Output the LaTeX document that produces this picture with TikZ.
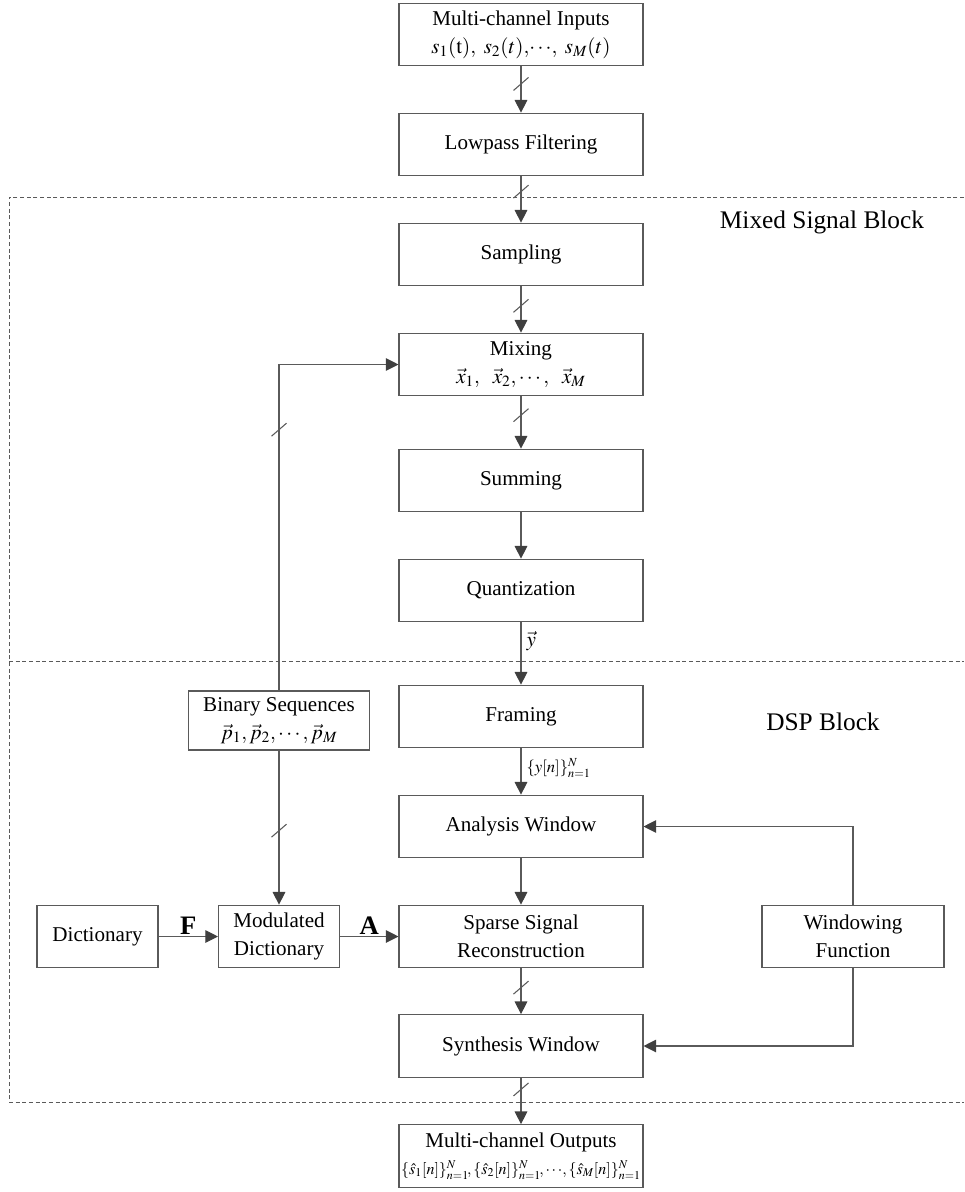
\documentclass[tikz,border=0pt]{standalone}
\usepackage{mathptmx}
\usepackage{fontspec}
\setmainfont{Liberation Serif}
\usetikzlibrary{arrows.meta}

\definecolor{linegray}{HTML}{5A5A5A}
\definecolor{tipgray}{HTML}{3F3F3F}

\tikzset{
  blk/.style={draw=linegray, line width=0.8pt, minimum width=183pt, minimum height=47pt,
    align=center, inner sep=1pt, font=\fontsize{15.8}{21}\selectfont},
  flow/.style={draw=linegray, line width=0.8pt, -{Triangle[length=9.5pt,width=9.5pt,color=tipgray]}},
  busbar/.pic={\draw[-, linegray, line width=0.8pt] (-7.5,-6.5) -- (7.5,6.5);},
  blockframe/.style={draw=linegray, line width=0.7pt, dash pattern=on 3pt off 2pt},
  sig/.style={inner sep=0.75pt, font=\fontsize{15.8}{18}\selectfont},
}

\begin{document}
\begin{tikzpicture}[x=0.75pt,y=0.75pt,yscale=-1,xscale=1]
\useasboundingbox (0,0) rectangle (964,1192);

%Shape: Dashed Frame
\draw[blockframe] (964,197) -- (9,197) -- (9,1102) -- (964,1102) ;
\draw[blockframe] (9,661) -- (964,661) ;

% Block Titles
\node[font=\fontsize{19}{22}\selectfont] (msb) at (822,222) {Mixed Signal Block};
\node[font=\fontsize{19}{22}\selectfont] (dspb) at (823,722) {DSP Block};

%Shape: Main Chain
\node[blk] (inp) at (521,34.5) {Multi-channel Inputs\\ $s_1(\mathrm{t}),\ s_2(t),\!\cdots\!,\ s_M(t)$};
\node[blk] (lp) at (521,144.5) {Lowpass Filtering};
\node[blk] (samp) at (521,254.5) {Sampling};
\node[blk] (mix) at (521,364.5) {Mixing\\ $\vec{x}_1,\ \ \vec{x}_2,\cdots,\ \ \vec{x}_M$};
\node[blk] (sum) at (521,480.5) {Summing};
\node[blk] (quant) at (521,590.5) {Quantization};
\node[blk] (frm) at (521,716.5) {Framing};
\node[blk] (ana) at (521,826.5) {Analysis Window};
\node[blk] (ssr) at (521,936.5) {Sparse Signal\\ Reconstruction};
\node[blk] (syn) at (521,1046) {Synthesis Window};
\node[blk] (outp) at (521,1156) {Multi-channel Outputs\\[-1pt] {\fontsize{12}{14}\selectfont$\{\hat{s}_1[n]\}_{n=1}^{N}\!,\{\hat{s}_2[n]\}_{n=1}^{N}\!,\cdots\!,\{\hat{s}_M[n]\}_{n=1}^{N}$}};

%Shape: Side Blocks
\node[blk, minimum width=135.75pt, minimum height=44.25pt] (bseq) at (279,720.5) {Binary Sequences\\ $\vec{p}_1,\vec{p}_2,\cdots,\vec{p}_M$};
\node[blk, minimum width=90.75pt] (dict) at (97.5,936.5) {Dictionary};
\node[blk, minimum width=90.75pt] (mdict) at (279,936.5) {Modulated\\ Dictionary};
\node[blk, minimum width=136.5pt] (wfun) at (853,936.5) {Windowing\\ Function};

%Straight Lines: Main Chain
\draw[flow] (inp) -- pic[pos=0.38] {busbar} (lp);
\draw[flow] (lp) -- pic[pos=0.33] {busbar} (samp);
\draw[flow] (samp) -- pic[pos=0.42] {busbar} (mix);
\draw[flow] (mix) -- pic[pos=0.36] {busbar} (sum);
\draw[flow] (sum) -- (quant);
\draw[flow] (quant) -- node[sig, anchor=west, pos=0.3, xshift=3pt] {$\vec{y}$} (frm);
\draw[flow] (frm) -- node[sig, anchor=west, pos=0.42, xshift=3pt, font=\fontsize{12.5}{14}\selectfont] {$\{y[n]\}_{n=1}^{N}$} (ana);
\draw[flow] (ana) -- (ssr);
\draw[flow] (ssr) -- pic[pos=0.42] {busbar} (syn);
\draw[flow] (syn) -- pic[pos=0.25] {busbar} (outp);

%Straight Lines: Side Paths
\draw[flow] (bseq.north) |- pic[pos=0.4] {busbar} (mix.west);
\draw[flow] (bseq) -- pic[pos=0.52] {busbar} (mdict);
\draw[flow] (dict) -- node[sig, above, font=\fontsize{20}{22}\selectfont\bfseries] {F} (mdict);
\draw[flow] (mdict) -- node[sig, above, font=\fontsize{20}{22}\selectfont\bfseries] {A} (ssr);
\draw[flow] (wfun.north) |- (ana.east);
\draw[flow] (wfun.south) |- (syn.east);

\end{tikzpicture}
\end{document}
